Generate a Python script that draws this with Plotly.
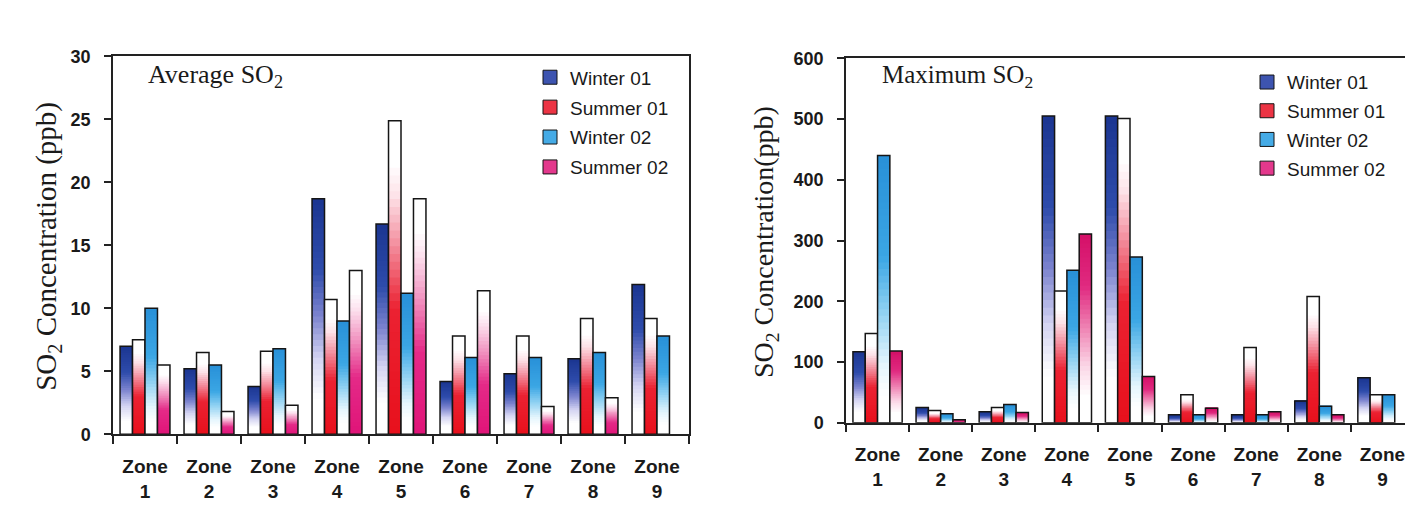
import plotly.graph_objects as go

# ---------------- data ----------------
zones = ["Zone<br>1", "Zone<br>2", "Zone<br>3", "Zone<br>4", "Zone<br>5",
         "Zone<br>6", "Zone<br>7", "Zone<br>8", "Zone<br>9"]
series_names = ["Winter 01", "Summer 01", "Winter 02", "Summer 02"]

avg_winter01 = [7.0, 5.2, 3.8, 18.7, 16.7, 4.2, 4.8, 6.0, 11.9]
avg_summer01 = [7.5, 6.5, 6.6, 10.7, 24.9, 7.8, 7.8, 9.2, 9.2]
avg_winter02 = [10.0, 5.5, 6.8, 9.0, 11.2, 6.1, 6.1, 6.5, 7.8]
avg_summer02 = [5.5, 1.8, 2.3, 13.0, 18.7, 11.4, 2.2, 2.9, None]

max_winter01 = [117, 25, 18, 505, 505, 13, 13, 36, 74]
max_summer01 = [147, 20, 25, 217, 501, 46, 124, 208, 46]
max_winter02 = [440, 15, 30, 251, 273, 13, 13, 27, 46]
max_summer02 = [118, 5, 17, 311, 76, 24, 18, 13, None]

# ---------------- styles ----------------
# gradient stops: t = 0 bottom of bar, t = 1 top of bar
GRAD = {
    "Winter 01": [(0, "#ffffff"), (0.15, "#ffffff"), (0.32, "#d4d4f2"), (0.5, "#7d84cf"),
                  (0.7, "#2e4cab"), (1, "#1b3591")],
    "Summer 01": [(0, "#e8101c"), (0.4, "#eb2232"), (0.6, "#f38c9c"), (0.76, "#fde2e8"),
                  (0.86, "#ffffff"), (1, "#ffffff")],
    "Winter 02": [(0, "#ffffff"), (0.1, "#ffffff"), (0.22, "#e4f5fd"), (0.42, "#8dd0f2"),
                  (0.62, "#3ba6e4"), (1, "#2890d8")],
    "Summer 02": [(0, "#e01478"), (0.35, "#e42a88"), (0.56, "#f08cbc"), (0.76, "#fce0ee"),
                  (0.86, "#ffffff"), (1, "#ffffff")],
    "Summer 02 max": [(0, "#ffffff"), (0.14, "#ffffff"), (0.3, "#fbd6e6"), (0.5, "#ef84b4"),
                      (0.72, "#e02a80"), (1, "#d41068")],
}
SWATCH = {"Winter 01": "#3d54b0", "Summer 01": "#ec3444",
          "Winter 02": "#45abe6", "Summer 02": "#e3388c"}

N_SLICES = 40
OVERLAP = 1.8  # slices overlap to avoid seams


def hex2rgb(h):
    h = h.lstrip("#")
    return tuple(int(h[i:i + 2], 16) for i in (0, 2, 4))


def grad_color(stops, t):
    for (t0, c0), (t1, c1) in zip(stops[:-1], stops[1:]):
        if t0 <= t <= t1:
            f = 0 if t1 == t0 else (t - t0) / (t1 - t0)
            a, b = hex2rgb(c0), hex2rgb(c1)
            r = [round(a[i] + (b[i] - a[i]) * f) for i in range(3)]
            return "rgb(%d,%d,%d)" % tuple(r)
    return stops[-1][1]


fig = go.Figure()


def add_chart(values_list, xa, ya, tag, legend_name, grad_keys):
    for name, vals, gk in zip(series_names, values_list, grad_keys):
        og = tag + name
        stops = GRAD[gk]
        for k in range(N_SLICES):
            t = (k + 0.5) / N_SLICES
            top_frac = min((k + OVERLAP) / N_SLICES, 1.0)
            fig.add_trace(go.Bar(
                x=zones,
                y=[None if v is None else v * (top_frac - k / N_SLICES) for v in vals],
                base=[None if v is None else v * k / N_SLICES for v in vals],
                offsetgroup=og, xaxis=xa, yaxis=ya,
                marker=dict(color=grad_color(stops, t), line=dict(width=0)),
                showlegend=False, hoverinfo="skip", legendgroup=og,
                legend=legend_name,
            ))
        # outline
        fig.add_trace(go.Bar(
            x=zones, y=vals, offsetgroup=og, xaxis=xa, yaxis=ya,
            marker=dict(color="rgba(0,0,0,0)", line=dict(color="#151515", width=1.5)),
            showlegend=False, legendgroup=og, legend=legend_name, name=name,
        ))
        # legend entry (marker only, no drawn point)
        fig.add_trace(go.Scatter(
            x=[zones[0]], y=[None], mode="markers", xaxis=xa, yaxis=ya,
            marker=dict(symbol="square", size=14, color=SWATCH[name],
                        line=dict(color="#151515", width=1)),
            showlegend=True, legendgroup=og, legend=legend_name, name=name,
            hoverinfo="skip",
        ))


add_chart([avg_winter01, avg_summer01, avg_winter02, avg_summer02], "x", "y", "a",
          "legend", ["Winter 01", "Summer 01", "Winter 02", "Summer 02"])
add_chart([max_winter01, max_summer01, max_winter02, max_summer02], "x2", "y2", "m",
          "legend2", ["Winter 01", "Summer 01", "Winter 02", "Summer 02 max"])

W, H = 1413, 518
TXT = "#1a1a1a"
SANS = "Liberation Sans, Arial, sans-serif"
SERIF = "Liberation Serif, Times New Roman, serif"

xcommon = dict(type="category", range=[-0.5, len(zones) - 0.5],
               showline=True, linecolor="#222", linewidth=1.5, mirror=True,
               ticks="outside", tickson="boundaries", ticklen=8, tickcolor="#222", tickwidth=1.5,
               tickfont=dict(family=SANS, size=19, color=TXT, weight="bold"),
               ticklabelstandoff=14, showgrid=False, zeroline=False, fixedrange=True)
ycommon = dict(showline=True, linecolor="#222", linewidth=1.5, mirror=True,
               ticks="outside", ticklen=7, tickcolor="#222", tickwidth=1.5,
               tickfont=dict(family=SANS, size=18, color=TXT, weight="bold"),
               ticklabelstandoff=10, showgrid=False, zeroline=False, fixedrange=True)

fig.update_layout(
    width=W, height=H, margin=dict(l=0, r=0, t=0, b=0),
    paper_bgcolor="white", plot_bgcolor="white",
    barmode="group", bargap=0.22, bargroupgap=0,
    xaxis=dict(domain=[105 / W, 681 / W], anchor="y", **xcommon),
    yaxis=dict(domain=[1 - 433 / H, 1 - 40 / H], anchor="x", range=[0, 30], dtick=5,
               tick0=0, **ycommon),
    xaxis2=dict(domain=[838 / W, 1406 / W], anchor="y2", **xcommon),
    yaxis2=dict(domain=[1 - 421 / H, 1 - 42 / H], anchor="x2", range=[0, 600], dtick=100,
                tick0=0, **ycommon),
    legend=dict(x=522 / W, y=1 - 42 / H, xanchor="left", yanchor="top",
                font=dict(family=SANS, size=19, color=TXT), bgcolor="rgba(0,0,0,0)",
                traceorder="grouped", tracegroupgap=2.2),
    legend2=dict(x=1239 / W, y=1 - 47 / H, xanchor="left", yanchor="top",
                 font=dict(family=SANS, size=19, color=TXT), bgcolor="rgba(0,0,0,0)",
                 traceorder="grouped", tracegroupgap=1),
    annotations=[
        dict(text="Average SO<sub>2</sub>", x=138 / W, y=1 - 60 / H, xref="paper",
             yref="paper", xanchor="left", yanchor="middle", showarrow=False,
             font=dict(family=SERIF, size=26, color=TXT)),
        dict(text="Maximum SO<sub>2</sub>", x=872 / W, y=1 - 61 / H, xref="paper",
             yref="paper", xanchor="left", yanchor="middle", showarrow=False,
             font=dict(family=SERIF, size=25, color=TXT)),
        dict(text="SO<sub>2</sub> Concentration (ppb)", x=40 / W, y=1 - 238 / H,
             xref="paper", yref="paper", xanchor="center", yanchor="middle",
             textangle=-90, showarrow=False, font=dict(family=SERIF, size=29, color=TXT)),
        dict(text="SO<sub>2</sub> Concentration(ppb)", x=757 / W, y=1 - 233 / H,
             xref="paper", yref="paper", xanchor="center", yanchor="middle",
             textangle=-90, showarrow=False, font=dict(family=SERIF, size=28, color=TXT)),
    ],
)

fig.write_html("out.html")
